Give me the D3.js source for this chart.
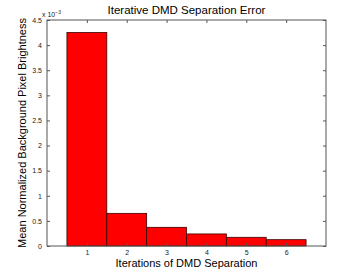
<!DOCTYPE html>
<html>
<head>
<meta charset="utf-8">
<script src="https://cdn.jsdelivr.net/npm/d3@7"></script>
<style>
  body { margin: 0; background: #fff; }
  text { font-family: "Liberation Sans", Arial, sans-serif; }
</style>
</head>
<body>
<svg width="361" height="277"></svg>
<script>
// data (values in units of 1e-3)
var iterations = [1, 2, 3, 4, 5, 6];
var errorValues = [4.25, 0.65, 0.372, 0.24, 0.173, 0.126];
var yTicks = [0, 0.5, 1, 1.5, 2, 2.5, 3, 3.5, 4, 4.5];

var svg = d3.select("svg"),
    margin = {left: 47, right: 35, top: 20, bottom: 31},
    width = 361 - margin.left - margin.right,
    height = 277 - margin.top - margin.bottom;

var x = d3.scaleLinear().domain([0, 7]).range([0, width]);
var y = d3.scaleLinear().domain([0, 4.5]).range([height, 0]);

var g = svg.append("g")
    .attr("transform", "translate(" + margin.left + "," + margin.top + ")");

// bars
g.selectAll("rect.bar")
    .data(errorValues)
    .enter().append("rect")
    .attr("class", "bar")
    .attr("x", function(d, i) { return x(iterations[i] - 0.5); })
    .attr("width", x(1) - x(0))
    .attr("y", function(d) { return y(d); })
    .attr("height", function(d) { return height - y(d); })
    .attr("fill", "#ff0000")
    .attr("stroke", "#3a0000")
    .attr("stroke-width", 0.8);

// box
g.append("rect")
    .attr("width", width).attr("height", height)
    .attr("fill", "none").attr("stroke", "#555").attr("stroke-width", 1);

var tickLen = 3;
var axisColor = "#555";

// bottom axis
var xAxis = g.append("g").attr("transform", "translate(0," + height + ")")
    .call(d3.axisBottom(x).tickValues(iterations).tickSize(-tickLen).tickPadding(4)
        .tickFormat(d3.format("d")));
// top ticks
var xTop = g.append("g")
    .call(d3.axisTop(x).tickValues(iterations).tickSize(-tickLen).tickFormat(""));
// left axis
var yAxis = g.append("g")
    .call(d3.axisLeft(y).tickValues(yTicks).tickSize(-tickLen).tickPadding(5)
        .tickFormat(function(d) { return d; }));
// right ticks
var yRight = g.append("g").attr("transform", "translate(" + width + ",0)")
    .call(d3.axisRight(y).tickValues(yTicks).tickSize(-tickLen).tickFormat(""));

[xAxis, xTop, yAxis, yRight].forEach(function(a) {
  a.select(".domain").remove();
  a.selectAll(".tick line").attr("stroke", axisColor);
  a.selectAll(".tick text").attr("font-size", 7).attr("fill", "#222")
   .style("font-family", "Liberation Sans, Arial, sans-serif");
});

// exponent label
var expo = svg.append("text")
    .attr("x", margin.left - 5).attr("y", margin.top - 3)
    .attr("font-size", 7).attr("fill", "#222");
expo.append("tspan").text("x 10");
expo.append("tspan").attr("dy", -3).attr("font-size", 5).text("\u22123");

// title
svg.append("text")
    .attr("x", margin.left + width / 2).attr("y", 14)
    .attr("text-anchor", "middle").attr("font-size", 11.5)
    .text("Iterative DMD Separation Error");

// x label
svg.append("text")
    .attr("x", margin.left + width / 2).attr("y", 267)
    .attr("text-anchor", "middle").attr("font-size", 11)
    .text("Iterations of DMD Separation");

// y label
svg.append("text")
    .attr("transform", "translate(26," + (margin.top + height / 2) + ") rotate(-90)")
    .attr("text-anchor", "middle").attr("font-size", 11)
    .text("Mean Normalized Background Pixel Brightness");
</script>
</body>
</html>
